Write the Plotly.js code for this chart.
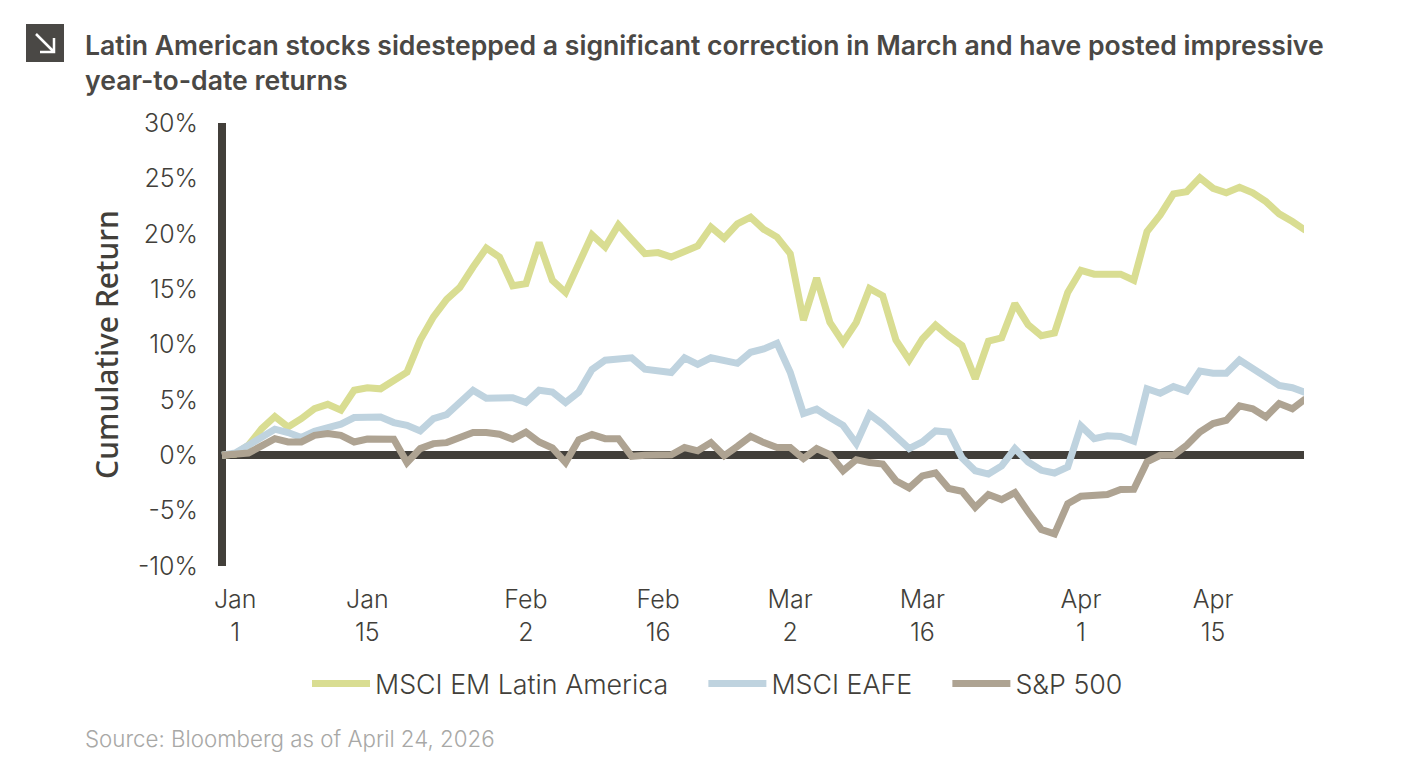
<!DOCTYPE html>
<html>
<head>
<meta charset="utf-8">
<script src="https://cdn.plot.ly/plotly-3.0.1.min.js"></script>
<style>
  html, body { margin: 0; padding: 0; background: #fff; }
</style>
</head>
<body>
<div id="chart" style="width:1424px;height:770px"></div>
<script>
// weekdays, Dec 31 2025 to Apr 24 2026
var dates = [
  "Dec 31", "Jan 1", "Jan 2", "Jan 5", "Jan 6", "Jan 7", "Jan 8", "Jan 9", "Jan 12", "Jan 13", "Jan 14",
  "Jan 15", "Jan 16", "Jan 19", "Jan 20", "Jan 21", "Jan 22", "Jan 23", "Jan 26", "Jan 27", "Jan 28",
  "Jan 29", "Jan 30", "Feb 2", "Feb 3", "Feb 4", "Feb 5", "Feb 6", "Feb 9", "Feb 10", "Feb 11",
  "Feb 12", "Feb 13", "Feb 16", "Feb 17", "Feb 18", "Feb 19", "Feb 20", "Feb 23", "Feb 24", "Feb 25",
  "Feb 26", "Feb 27", "Mar 2", "Mar 3", "Mar 4", "Mar 5", "Mar 6", "Mar 9", "Mar 10", "Mar 11",
  "Mar 12", "Mar 13", "Mar 16", "Mar 17", "Mar 18", "Mar 19", "Mar 20", "Mar 23", "Mar 24", "Mar 25",
  "Mar 26", "Mar 27", "Mar 30", "Mar 31", "Apr 1", "Apr 2", "Apr 3", "Apr 6", "Apr 7", "Apr 8",
  "Apr 9", "Apr 10", "Apr 13", "Apr 14", "Apr 15", "Apr 16", "Apr 17", "Apr 20", "Apr 21", "Apr 22",
  "Apr 23", "Apr 24"
];

var latam = [
  0, 0.1, 0.9, 2.4, 3.5, 2.56, 3.3, 4.2, 4.6, 4.07, 5.87, 6.1, 6.0, 6.7, 7.5, 10.4, 12.5, 14.07, 15.15, 17.0,
  18.7, 17.9, 15.3, 15.5, 19.2, 15.8, 14.7, 17.3, 19.9, 18.8, 20.8, 19.5, 18.2, 18.3, 17.9, 18.4, 18.9, 20.6, 19.6, 20.9,
  21.5, 20.4, 19.7, 18.2, 12.2, 16.0, 12.0, 10.2, 12.0, 15.06, 14.4, 10.4, 8.6, 10.5, 11.75, 10.75, 9.9, 6.9, 10.3, 10.6,
  13.7, 11.8, 10.8, 11.05, 14.7, 16.7, 16.35, 16.35, 16.35, 15.8, 20.2, 21.7, 23.6, 23.8, 25.06, 24.1, 23.7, 24.2, 23.7, 22.9,
  21.8, 21.1, 20.3
];
var eafe = [
  0, 0.2, 0.9, 1.65, 2.35, 2.05, 1.6, 2.17, 2.56, 2.8, 3.4, 3.5, 3.46, 2.95, 2.7, 2.2, 3.3, 3.67, 4.8, 5.87,
  5.15, 5.1, 5.2, 4.76, 5.87, 5.7, 4.76, 5.7, 7.74, 8.58, 8.64, 8.8, 7.77, 7.6, 7.47, 8.8, 8.2, 8.8, 8.6, 8.3,
  9.3, 9.6, 10.1, 7.5, 3.77, 4.16, 3.4, 2.7, 1.05, 3.7, 2.8, 1.75, 0.6, 1.2, 2.2, 2.1, -0.24, -1.4, -1.7, -0.96,
  0.6, -0.6, -1.36, -1.6, -1.05, 2.65, 1.5, 1.75, 1.7, 1.27, 6.0, 5.6, 6.2, 5.8, 7.6, 7.4, 7.4, 8.6, 7.8, 7.0,
  6.3, 6.1, 5.66
];
var spx = [
  0, 0.05, 0.2, 0.85, 1.5, 1.2, 1.2, 1.8, 1.95, 1.8, 1.2, 1.47, 1.45, 1.45, -0.66, 0.6, 1.05, 1.14, 1.6, 2.05,
  2.05, 1.9, 1.45, 2.08, 1.2, 0.66, -0.66, 1.4, 1.87, 1.5, 1.5, -0.1, 0, 0, 0.05, 0.7, 0.4, 1.14, -0.05, 0.8,
  1.7, 1.14, 0.7, 0.7, -0.3, 0.6, 0.05, -1.4, -0.4, -0.66, -0.8, -2.3, -2.95, -1.87, -1.6, -3.0, -3.25, -4.7, -3.55, -4.0,
  -3.37, -5.1, -6.7, -7.1, -4.37, -3.7, -3.55, -3.55, -3.1, -3.07, -0.6, 0, 0, 0.9, 2.1, 2.86, 3.16, 4.46, 4.2, 3.46,
  4.67, 4.2, 5.1
];

var tickDates = ["Jan 1", "Jan 15", "Feb 2", "Feb 16", "Mar 2", "Mar 16", "Apr 1", "Apr 15"];
var yTicks = [-10, -5, 0, 5, 10, 15, 20, 25, 30];

var dark = "#423f3a";
var W = 1424, H = 770;
var plot = { l: 218, r: 120, t: 123, b: 204 };

// page pixels to paper coords, for the header icon
function px(x) { return (x - plot.l) / (W - plot.l - plot.r); }
function py(y) { return 1 - (y - plot.t) / (H - plot.t - plot.b); }

var idx = dates.map(function(d, i) { return i; });

// trailing nbsp's open up the gap between legend entries
function series(name, values, color, pad) {
  return {
    type: "scatter",
    mode: "lines",
    name: name + pad,
    x: idx,
    y: values,
    text: dates,
    cliponaxis: false,
    line: { color: color, width: 7 },
    hovertemplate: "%{text}: %{y:.1f}%<extra>" + name + "</extra>"
  };
}

var traces = [
  series("MSCI EM Latin America", latam, "#d9dd92", "\u00a0\u00a0\u00a0\u00a0"),
  series("MSCI EAFE", eafe, "#bfd3df", "\u00a0\u00a0\u00a0\u00a0"),
  series("S&P 500", spx, "#aea392", "")
];

var layout = {
  width: W,
  height: H,
  margin: plot,
  paper_bgcolor: "#fff",
  plot_bgcolor: "#fff",
  font: { family: "Inter, sans-serif", color: dark },
  showlegend: true,
  legend: {
    orientation: "h",
    x: px(307),
    xanchor: "left",
    y: -0.2115,
    yanchor: "top",
    font: { size: 26.8, color: dark, weight: 300 },
    itemwidth: 58,
    traceorder: "normal"
  },
  xaxis: {
    type: "linear",
    range: [-0.303, 81.88],
    tickmode: "array",
    tickvals: tickDates.map(function(d) { return dates.indexOf(d); }),
    ticktext: tickDates.map(function(d) { return d.replace(" ", "<br>"); }),
    tickfont: { size: 25, color: dark, weight: 300 },
    ticks: "outside",
    ticklen: 11,
    tickcolor: "rgba(0,0,0,0)",
    showgrid: false,
    showline: false,
    zeroline: true,
    zerolinecolor: dark,
    zerolinewidth: 8
  },
  yaxis: {
    range: [-10, 30],
    tickmode: "array",
    tickvals: yTicks,
    ticktext: yTicks.map(function(v) { return v + "%"; }),
    tickfont: { size: 25, color: dark, weight: 300 },
    ticks: "outside",
    ticklen: 14,
    tickcolor: "rgba(0,0,0,0)",
    showgrid: false,
    showline: false,
    zeroline: true,
    zerolinecolor: dark,
    zerolinewidth: 8,
    title: { text: "Cumulative Return", font: { size: 30, color: dark, weight: 500, family: "Noto Sans, sans-serif" }, standoff: 10 }
  },
  annotations: [
    {
      xref: "paper", yref: "paper",
      x: px(83), y: py(62), xanchor: "left", yanchor: "middle", align: "left",
      text: "Latin American stocks sidestepped a significant correction in March and have posted impressive<br>year-to-date returns",
      showarrow: false,
      font: { size: 26.6, color: "#4a4845", weight: 600 }
    },
    {
      xref: "paper", yref: "paper",
      x: px(83), y: py(738), xanchor: "left", yanchor: "middle",
      text: "Source: Bloomberg as of April 24, 2026",
      showarrow: false,
      font: { size: 22.3, color: "#a8a8a6", weight: 300 }
    }
  ],
  shapes: [
    { type: "rect", xref: "paper", yref: "paper", x0: px(26), x1: px(64), y0: py(24), y1: py(62),
      fillcolor: "#4a4845", line: { width: 0 } },
    { type: "path", xref: "paper", yref: "paper",
      path: "M " + px(36) + " " + py(34) + " L " + px(53) + " " + py(51) +
            " M " + px(40) + " " + py(52) + " L " + px(54) + " " + py(52) + " L " + px(54) + " " + py(38),
      line: { color: "#fff", width: 2.5 } }
  ]
};

Plotly.newPlot("chart", traces, layout, { displayModeBar: false });
</script>
</body>
</html>
